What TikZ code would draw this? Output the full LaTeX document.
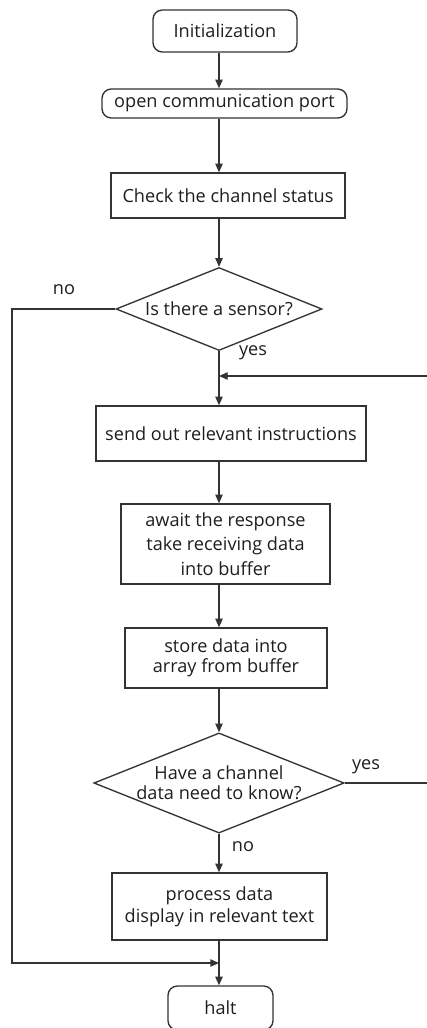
\documentclass[tikz,border=0pt]{standalone}
\usepackage{fontspec}
\setmainfont{Open Sans}
\usetikzlibrary{shapes.geometric,arrows.meta}
\definecolor{ink}{HTML}{1E1E1E}
\definecolor{edge}{HTML}{333333}
\tikzset{
  px/.style={x=0.75pt,y=-0.75pt},
  base/.style={draw=edge,line width=1pt,text=ink,font=\fontsize{13.6}{16.5}\selectfont,align=center,inner sep=0pt},
  term/.style={base,rounded corners=7pt},
  proc/.style={base},
  dec/.style={base,diamond,aspect=2.5},
  conn/.style={draw=edge,line width=1pt},
  arr/.style={conn,-{Triangle[length=6.5pt,width=5.5pt]}},
  lbl/.style={text=ink,font=\fontsize{13.6}{16}\selectfont,inner sep=0pt}
}
\begin{document}
\begin{tikzpicture}[px]
\useasboundingbox (0,0) rectangle (427,1028);
\coordinate (spine) at (219,0);
\node[term,minimum width=144*0.75pt,minimum height=42*0.75pt] (init) at (225,31) {Initialization};
\node[term,minimum width=245*0.75pt,minimum height=29*0.75pt] (port) at (224.5,103.5) {open communication port};
\node[proc,minimum width=234*0.75pt,minimum height=45*0.75pt] (check) at (228,195.5) {Check the channel status};
\node[dec,minimum width=206*0.75pt,minimum height=83*0.75pt] (d1) at (219,309) {Is there a sensor?};
\node[proc,minimum width=270*0.75pt,minimum height=55*0.75pt] (send) at (231,433.5) {send out relevant instructions};
\node[proc,minimum width=209*0.75pt,minimum height=80*0.75pt,font=\fontsize{13.6}{18.5}\selectfont] (await) at (225.5,544) {await the response\\take receiving data\\into buffer};
\node[proc,minimum width=202*0.75pt,minimum height=60*0.75pt,font=\fontsize{13.6}{15}\selectfont] (store) at (226,658) {store data into\\array from buffer};
\node[dec,minimum width=246*0.75pt,minimum height=98*0.75pt,font=\fontsize{13.6}{15}\selectfont] (d2) at (219,783) {Have a channel\\data need to know?};
\node[proc,minimum width=215*0.75pt,minimum height=67*0.75pt,font=\fontsize{13.6}{16.5}\selectfont] (proc) at (219.5,906.5) {process data\\display in relevant text};
\node[term,minimum width=105*0.75pt,minimum height=44*0.75pt] (halt) at (220.5,1008) {halt};
% labels
\node[lbl] (lno1) at (64,290) {no};
\node[lbl] (lyes1) at (253,353) {yes};
\node[lbl] (lyes2) at (366,767) {yes};
\node[lbl] (lno2) at (243,847) {no};
% coordinates
\coordinate (merge) at (219,376);
\coordinate (rtop) at (431,376);
\coordinate (rbot) at (431,783);
\coordinate (lcorner) at (12,309);
\coordinate (join) at (219,963);
% connectors
\draw[arr] (init.south -| spine) -- (port.north -| spine);
\draw[arr] (port.south -| spine) -- (check.north -| spine);
\draw[arr] (check.south -| spine) -- (d1.north);
\draw[arr] (d1.south) -- (send.north -| spine);
\draw[arr] (rbot) -- (rtop) -- (merge);
\draw[conn] (d2.east) -- (rbot);
\draw[arr] (send.south -| spine) -- (await.north -| spine);
\draw[arr] (await.south -| spine) -- (store.north -| spine);
\draw[arr] (store.south -| spine) -- (d2.north);
\draw[arr] (d2.south) -- (proc.north -| spine);
\draw[arr] (proc.south -| spine) -- (halt.north -| spine);
\draw[arr] (d1.west) -- (lcorner) |- (join);
\end{tikzpicture}
\end{document}
